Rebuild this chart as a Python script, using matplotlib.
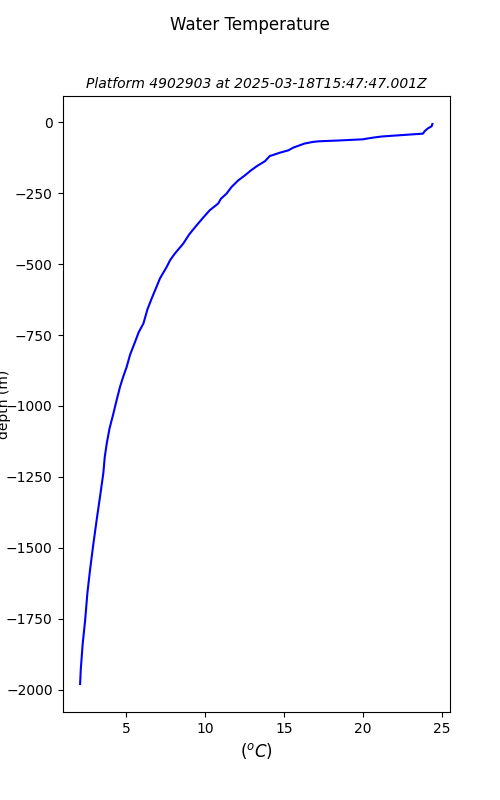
import matplotlib
matplotlib.use("Agg")
import matplotlib.pyplot as plt

# temperature profile
temp = [24.40, 24.35, 24.10, 23.90, 23.80, 22.50, 21.20, 20.65, 20.30,
        20.00, 18.50, 17.20, 16.85, 16.30, 15.60, 15.27, 14.75, 14.10,
        13.80, 13.27, 12.90, 12.53, 12.10, 11.68, 11.37, 11.00, 10.84,
        10.30, 9.90, 9.47, 9.00, 8.63, 8.10, 7.80, 7.57, 7.15, 6.84,
        6.63, 6.35, 6.10, 5.80, 5.57, 5.25, 5.04, 4.80, 4.62, 4.40,
        4.20, 3.95, 3.78, 3.65, 3.56, 3.35, 3.14, 2.92, 2.72, 2.55,
        2.41, 2.25, 2.13, 2.09]
depth = [-6, -14, -22, -32, -40, -45, -50, -54, -57,
         -60, -64, -67, -69, -75, -89, -99, -107, -119,
         -137, -155, -170, -187, -205, -228, -251, -270, -286,
         -310, -335, -363, -395, -427, -462, -485, -510, -550, -592,
         -620, -660, -709, -740, -774, -820, -862, -900, -932, -980,
         -1026, -1080, -1131, -1180, -1237, -1320, -1401, -1490, -1577, -1660,
         -1754, -1840, -1930, -1980]

platform = "4902903"
stamp = "2025-03-18T15:47:47.001Z"

fig, ax = plt.subplots(figsize=(5, 8), dpi=100)
fig.suptitle("Water Temperature")
ax.plot(temp, depth, color="blue")
ax.set_title("Platform %s at %s" % (platform, stamp), fontsize=10, style="italic")
ax.set_xlabel("($^oC$)", fontsize=12)
ax.set_ylabel("depth (m)")
# label sits over the tick labels, as in the original
ax.yaxis.set_label_coords(-0.132, 0.5)
fig.savefig("out.png")
